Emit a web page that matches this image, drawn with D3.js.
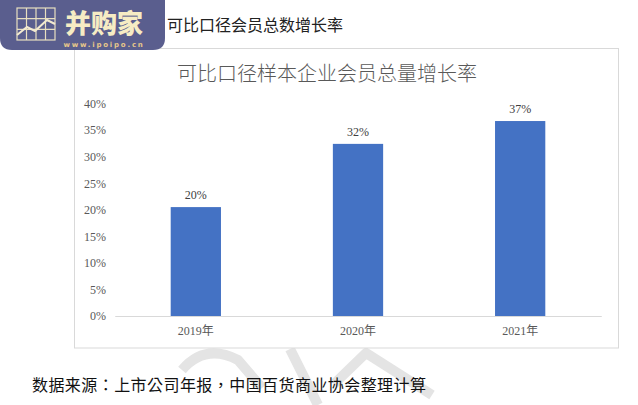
<!DOCTYPE html>
<html><head><meta charset="utf-8">
<script src="https://cdn.jsdelivr.net/npm/d3@7"></script>
<style>body{margin:0;background:#fff}svg{display:block}</style>
</head><body>
<script>
const categories = ["2019年","2020年","2021年"];
const values = [20.5, 32.4, 36.7];
const valueLabels = ["20%","32%","37%"];
const yTicks = [0,5,10,15,20,25,30,35,40];
const chartTitle = "可比口径样本企业会员总量增长率";
const headerText = "可比口径会员总数增长率";
const sourceText = "数据来源：上市公司年报，中国百货商业协会整理计算";

const W=638,H=405;
const svg=d3.select("body").append("svg").attr("width",W).attr("height",H);
const cjk="'Noto Sans CJK SC','Noto Sans',sans-serif";
const cjkTC="'Noto Sans CJK TC','Noto Sans CJK SC',sans-serif";
const serif="'Liberation Serif','DejaVu Serif','Noto Sans CJK SC',serif";

// watermark
const wm=svg.append("g").attr("fill","none").attr("stroke","#e4e4e4").attr("stroke-width",10).attr("stroke-linejoin","round");
wm.append("path").attr("d","M182,370 Q205,343 238,360 L262,388");
wm.append("path").attr("d","M290,349 L318,405");
wm.append("path").attr("d","M334,384 L366,353 L432,395");

// header
svg.append("text").attr("x",167).attr("y",31)
  .attr("font-family",cjk).attr("font-size",16).attr("fill","#222").text(headerText);

// frame
svg.append("rect").attr("x",74.5).attr("y",48.5).attr("width",544).attr("height",299.5)
  .attr("fill","#fff").attr("stroke","#d9d9d9").attr("stroke-width",1);

svg.append("text").attr("x",327).attr("y",81).attr("text-anchor","middle")
  .attr("font-family",cjk).attr("font-weight",300).attr("font-size",20).attr("fill","#595959").text(chartTitle);

const x=d3.scaleBand().domain(categories).range([114.75,601.25]).paddingInner(0.69).paddingOuter(0.345);
const y=d3.scaleLinear().domain([0,40]).range([316,103.5]);

// y axis labels
const ya=svg.append("g").attr("transform","translate(106,0)")
  .call(d3.axisLeft(y).tickValues(yTicks).tickSize(0).tickPadding(0).tickFormat(d=>d+"%"));
ya.select(".domain").remove();
ya.selectAll("text").attr("font-family",serif).attr("font-size",12).attr("fill","#595959");

// bars
svg.append("g").selectAll("rect").data(values).join("rect")
  .attr("x",(d,i)=>x(categories[i])).attr("width",x.bandwidth())
  .attr("y",d=>y(d)).attr("height",d=>y(0)-y(d)).attr("fill","#4472c4");

// x axis
const xa=svg.append("g").attr("transform","translate(0,316)")
  .call(d3.axisBottom(x).tickSize(0).tickPadding(10));
xa.select(".domain").attr("stroke","#d9d9d9").attr("stroke-width",1.2);
xa.selectAll("text").attr("font-family",serif).attr("font-size",12).attr("fill","#595959");

// value labels
svg.append("g").selectAll("text").data(values).join("text")
  .attr("x",(d,i)=>x(categories[i])+x.bandwidth()/2).attr("y",d=>y(d)-8)
  .attr("text-anchor","middle").attr("font-family",serif).attr("font-size",12).attr("fill","#404040")
  .text((d,i)=>valueLabels[i]);

// source
svg.append("text").attr("x",32).attr("y",391).attr("font-family",cjkTC).attr("font-weight",400)
  .attr("font-size",16).attr("textLength",394).attr("lengthAdjust","spacing").attr("fill","#111").text(sourceText);

// logo
const lg=svg.append("g");
lg.append("path").attr("d","M0,0 H165 V38 Q165,50 153,50 H12 Q0,50 0,38 Z").attr("fill","#5a5e8e");
const gx=17,gy=8,gw=38,gh=32;
const grid=lg.append("g").attr("stroke","#e8dfc0").attr("stroke-width",1.2).attr("fill","none");
grid.append("rect").attr("x",gx).attr("y",gy).attr("width",gw).attr("height",gh);
[1,2,3].forEach(i=>{grid.append("line").attr("x1",gx+gw*i/4).attr("x2",gx+gw*i/4).attr("y1",gy).attr("y2",gy+gh);});
[1,2].forEach(i=>{grid.append("line").attr("x1",gx).attr("x2",gx+gw).attr("y1",gy+gh*i/3).attr("y2",gy+gh*i/3);});
lg.append("path").attr("d",`M${gx},${gy+27} L${gx+10},${gy+19} L${gx+18},${gy+23} L${gx+30},${gy+12} L${gx+gw},${gy+16}`)
  .attr("fill","none").attr("stroke","#f3ead0").attr("stroke-width",2);
lg.append("text").attr("x",104).attr("y",33).attr("text-anchor","middle").attr("font-family",cjk)
  .attr("font-weight",900).attr("font-size",26).attr("fill","#f6ecc4").text("并购家");
lg.append("text").attr("x",104).attr("y",47).attr("text-anchor","middle").attr("font-family","'DejaVu Sans',sans-serif")
  .attr("font-weight",700).attr("font-size",7).attr("letter-spacing",1.8).attr("fill","#e8c88a").text("www.ipoipo.cn");
</script>
</body></html>
